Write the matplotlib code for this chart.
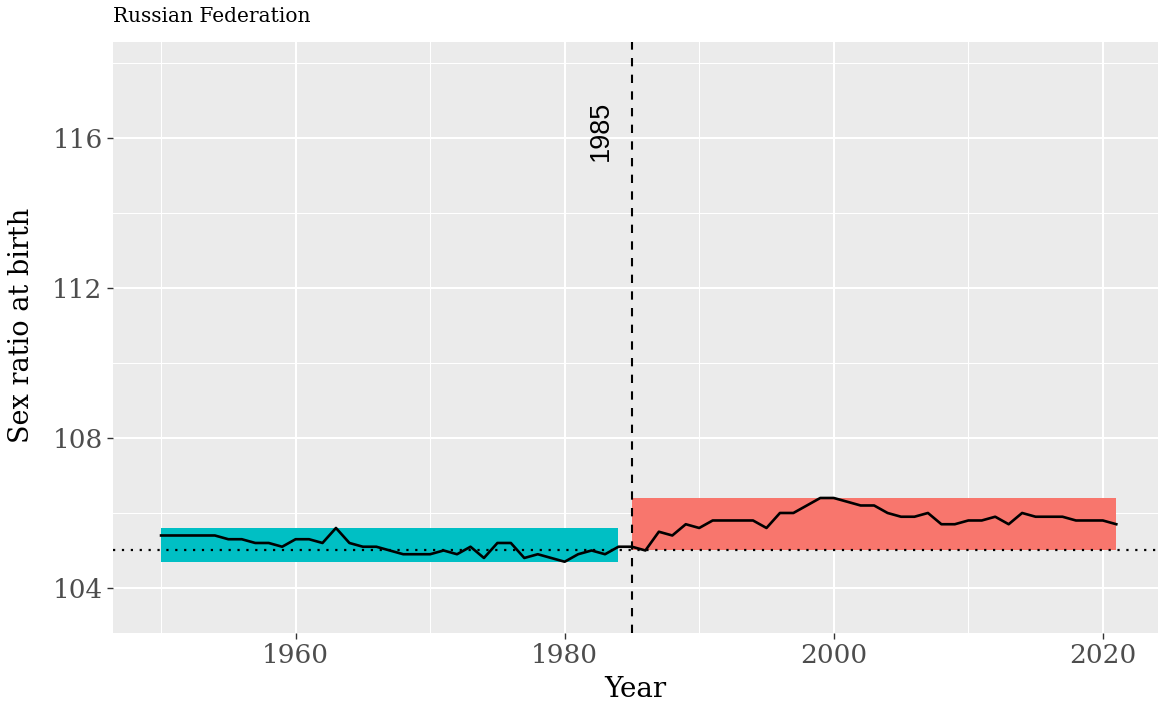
import numpy as np
import matplotlib.pyplot as plt

# sex ratio at birth, Russian Federation, 1950-2021
years = np.arange(1950, 2022)
ratio = [105.4, 105.4, 105.4, 105.4, 105.4, 105.3, 105.3, 105.2, 105.2, 105.1,
         105.3, 105.3, 105.2, 105.6, 105.2, 105.1, 105.1, 105.0, 104.9, 104.9,
         104.9, 105.0, 104.9, 105.1, 104.8, 105.2, 105.2, 104.8, 104.9, 104.8,
         104.7, 104.9, 105.0, 104.9, 105.1, 105.1, 105.0, 105.5, 105.4, 105.7,
         105.6, 105.8, 105.8, 105.8, 105.8, 105.6, 106.0, 106.0, 106.2, 106.4,
         106.4, 106.3, 106.2, 106.2, 106.0, 105.9, 105.9, 106.0, 105.7, 105.7,
         105.8, 105.8, 105.9, 105.7, 106.0, 105.9, 105.9, 105.9, 105.8, 105.8,
         105.8, 105.7]
ratio = np.array(ratio)
break_year = 1985
reference = 105
country = "Russian Federation"

fig = plt.figure(figsize=(11.58, 7.07), dpi=100)
ax = fig.add_axes([0.0976, 0.1047, 0.9024, 0.8359])
ax.set_facecolor("#EBEBEB")
for s in ax.spines.values():
    s.set_visible(False)

# grid like ggplot
ax.set_xticks([1960, 1980, 2000, 2020])
ax.set_xticks([1950, 1970, 1990, 2010], minor=True)
ax.set_yticks([104, 108, 112, 116])
ax.set_yticks([106, 110, 114, 118], minor=True)
ax.grid(True, which="major", color="white", linewidth=1.5)
ax.grid(True, which="minor", color="white", linewidth=0.75)
ax.set_axisbelow(True)
ax.tick_params(which="minor", length=0)
ax.tick_params(which="major", length=4, width=1, color="#333333",
               labelsize=19, labelcolor="#4D4D4D")
for lab in ax.get_xticklabels() + ax.get_yticklabels():
    lab.set_family("DejaVu Serif")

# before / after ranges
pre = years < break_year
post = years >= break_year
ax.fill_between([years[pre][0], years[pre][-1]], ratio[pre].min(), ratio[pre].max(),
                color="#00BFC4", linewidth=0, zorder=1)
ax.fill_between([years[post][0], years[post][-1]], ratio[post].min(), ratio[post].max(),
                color="#F8766D", linewidth=0, zorder=1)

ax.axhline(reference, color="black", linestyle=(0, (1, 3)), linewidth=1.6, zorder=2)
ax.axvline(break_year, color="black", linestyle=(0, (4, 4)), linewidth=1.5, zorder=2)
ax.text(break_year - 1.35, 116.2, str(break_year), rotation=90, ha="right", va="center",
        fontsize=19.5, family="Liberation Sans", color="black")

ax.plot(years, ratio, color="black", linewidth=1.9, zorder=3)

ax.set_xlim(1946.43, 2024.1)
ax.set_ylim(102.8, 118.56)
ax.set_xlabel("Year", family="DejaVu Serif", fontsize=20)
ax.set_ylabel("Sex ratio at birth", family="DejaVu Serif", fontsize=19.5)
ax.xaxis.set_label_coords(0.5, -0.072)
ax.yaxis.set_label_coords(-0.075, 0.52)
fig.text(113 / 1158, 1 - 17 / 707, country, family="DejaVu Serif", fontsize=14.5,
         ha="left", va="center")

fig.savefig("out.png", dpi=100)
